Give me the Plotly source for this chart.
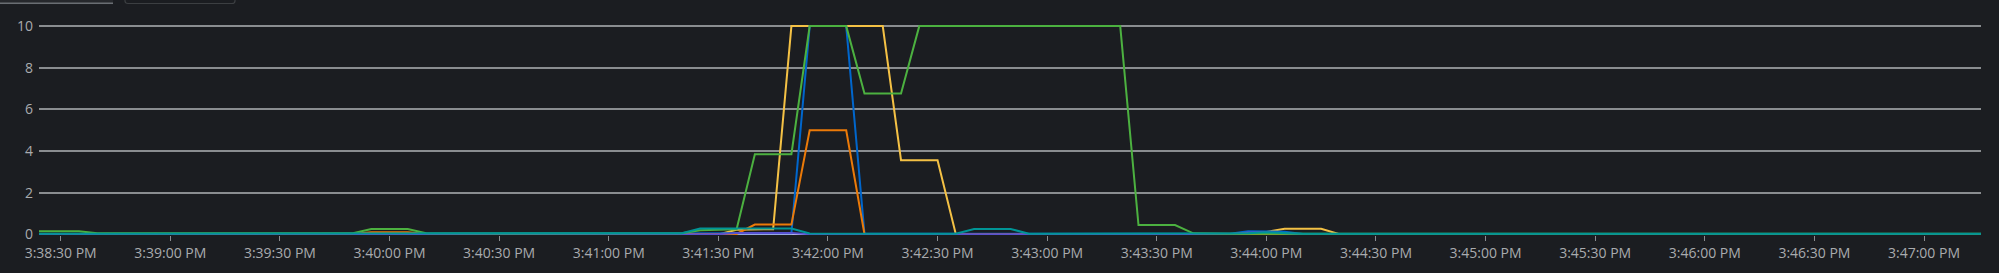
import plotly.graph_objects as go
from datetime import datetime, timedelta

# ---------------- data ----------------
start_time = datetime(2024, 1, 1, 15, 38, 20)
step_seconds = 5
n_points = 109  # 3:38:20 PM .. 3:47:20 PM every 5 s
times = [start_time + timedelta(seconds=step_seconds * i) for i in range(n_points)]

def pad(values):
    return values + [values[-1]] * (n_points - len(values))

# index k -> 3:38:20 + 5k seconds
green = pad([
    0.15, 0.15, 0.15, 0.15, 0.05, 0.04, 0.04, 0.05, 0.06, 0.06,   # k0-9
    0.05, 0.04, 0.04, 0.04, 0.04, 0.04, 0.04, 0.04, 0.05, 0.26,   # k10-19
    0.26, 0.26, 0.05, 0.04, 0.04, 0.04, 0.04, 0.04, 0.04, 0.04,   # k20-29
    0.04, 0.04, 0.04, 0.04, 0.04, 0.04, 0.05, 0.20, 0.22, 0.25,   # k30-39
    3.85, 3.85, 3.85, 10, 10, 10, 6.76, 6.76, 6.76, 10,           # k40-49
    10, 10, 10, 10, 10, 10, 10, 10, 10, 10,                       # k50-59
    10, 0.45, 0.45, 0.45, 0.05, 0.03, 0.03, 0.03, 0.03, 0.03,     # k60-69
    0.03,
])
yellow = pad([
    0, 0, 0, 0, 0, 0, 0, 0, 0, 0,
    0, 0, 0, 0, 0, 0, 0, 0, 0, 0,
    0, 0, 0, 0, 0, 0, 0, 0, 0, 0,
    0, 0, 0, 0, 0, 0, 0, 0, 0, 0.22,
    0.22, 0.25, 10, 10, 10, 10, 10, 10, 3.56, 3.56,
    3.56, 0.01, 0.01, 0.01, 0.01, 0.01, 0.01, 0.01, 0.01, 0.01,
    0.01, 0.01, 0.01, 0.01, 0.01, 0.01, 0.01, 0.01, 0.12, 0.27,
    0.27, 0.27, 0.01,
])
blue = pad([
    0.02, 0.02, 0.02, 0.02, 0.02, 0.02, 0.02, 0.02, 0.02, 0.02,
    0.02, 0.02, 0.02, 0.02, 0.02, 0.02, 0.02, 0.02, 0.02, 0.02,
    0.02, 0.02, 0.02, 0.02, 0.02, 0.02, 0.02, 0.02, 0.02, 0.02,
    0.02, 0.02, 0.02, 0.02, 0.02, 0.02, 0.02, 0.02, 0.02, 0.04,
    0.04, 0.05, 0.05, 10, 10, 10, 0.03, 0.03, 0.03, 0.03,
    0.03, 0.03, 0.03, 0.03, 0.03, 0.03, 0.03, 0.03, 0.03, 0.03,
    0.03, 0.03, 0.03, 0.03, 0.03, 0.03, 0.03, 0.15, 0.15, 0.13,
    0.02,
])
orange = pad([
    0.02, 0.02, 0.02, 0.02, 0.02, 0.02, 0.02, 0.02, 0.02, 0.02,
    0.03, 0.04, 0.04, 0.04, 0.04, 0.03, 0.02, 0.02, 0.02, 0.10,
    0.10, 0.10, 0.02, 0.02, 0.02, 0.02, 0.02, 0.02, 0.02, 0.02,
    0.02, 0.02, 0.02, 0.02, 0.02, 0.02, 0.02, 0.02, 0.02, 0.02,
    0.47, 0.47, 0.47, 5, 5, 5, 0.01, 0.01, 0.01, 0.01,
    0.01,
])
purple = pad([
    0.01, 0.01, 0.01, 0.01, 0.01, 0.01, 0.01, 0.01, 0.01, 0.01,
    0.01, 0.01, 0.01, 0.01, 0.01, 0.01, 0.01, 0.01, 0.01, 0.01,
    0.01, 0.01, 0.01, 0.01, 0.01, 0.01, 0.01, 0.01, 0.01, 0.01,
    0.01, 0.01, 0.01, 0.01, 0.01, 0.01, 0.01, 0.01, 0.01, 0.07,
    0.07, 0.07, 0.07, 0.01, 0.01, 0.01, 0.01, 0.01, 0.01, 0.01,
    0.01, 0.01, 0.01, 0.01, 0.01, 0.01, 0.01, 0.01, 0.01, 0.01,
    0.01, 0.01, 0.01, 0.01, 0.01, 0.01, 0.01, 0.09, 0.10, 0.06,
    0.01,
])
lavender = pad([0.0])
teal = pad([
    0.03, 0.03, 0.03, 0.03, 0.03, 0.03, 0.03, 0.03, 0.03, 0.03,
    0.03, 0.03, 0.03, 0.03, 0.03, 0.03, 0.03, 0.03, 0.03, 0.03,
    0.03, 0.03, 0.03, 0.03, 0.03, 0.03, 0.03, 0.03, 0.03, 0.03,
    0.03, 0.03, 0.03, 0.03, 0.03, 0.03, 0.06, 0.28, 0.28, 0.28,
    0.28, 0.28, 0.28, 0.04, 0.03, 0.03, 0.03, 0.03, 0.03, 0.03,
    0.03, 0.03, 0.26, 0.26, 0.26, 0.03, 0.03, 0.03, 0.03, 0.03,
    0.03, 0.03, 0.03, 0.03, 0.03, 0.03, 0.03, 0.05, 0.10, 0.05,
    0.03,
])

series = [
    ("lavender", lavender, "#c6c1ea"),
    ("yellow", yellow, "#f4c145"),
    ("blue", blue, "#0066cc"),
    ("orange", orange, "#ec7a08"),
    ("purple", purple, "#5752d1"),
    ("green", green, "#4cb140"),
    ("teal", teal, "#009596"),
]

x_tick_vals = [datetime(2024, 1, 1, 15, 38, 30) + timedelta(seconds=30 * i) for i in range(18)]
x_tick_text = [
    "3:38:30 PM", "3:39:00 PM", "3:39:30 PM", "3:40:00 PM", "3:40:30 PM", "3:41:00 PM",
    "3:41:30 PM", "3:42:00 PM", "3:42:30 PM", "3:43:00 PM", "3:43:30 PM", "3:44:00 PM",
    "3:44:30 PM", "3:45:00 PM", "3:45:30 PM", "3:46:00 PM", "3:46:30 PM", "3:47:00 PM",
]
y_tick_vals = [0, 2, 4, 6, 8, 10]
y_tick_text = ["0", "2", "4", "6", "8", "10"]

x_range = [datetime(2024, 1, 1, 15, 38, 24, 60000), datetime(2024, 1, 1, 15, 47, 15, 600000)]
y_range = [-0.03, 10.15]

# ---------------- figure ----------------
W, H = 1999, 273
BG = "#1b1d21"
TEXT = "#a9abae"
GRID = "#8a8d90"

fig = go.Figure()
for name, vals, color in series:
    fig.add_trace(go.Scatter(
        x=times, y=vals, mode="lines", name=name,
        line=dict(color=color, width=2), hoverinfo="skip", showlegend=False,
    ))

M_L, M_R, M_T, M_B = 39, 18, 23, 38
plot_w = W - M_L - M_R
plot_h = H - M_T - M_B

def px_x(p):
    return (p - M_L) / plot_w

def px_y(p):
    return (H - M_B - p) / plot_h

shapes = [
    # cut-off tab underline at top-left
    dict(type="rect", xref="paper", yref="paper",
         x0=px_x(0), x1=px_x(113), y0=px_y(4.2), y1=px_y(-2),
         line=dict(width=0), fillcolor="#26282c", layer="below"),
    dict(type="line", xref="paper", yref="paper",
         x0=px_x(0), x1=px_x(113), y0=px_y(3.3), y1=px_y(3.3),
         line=dict(color="#6a6e73", width=1.5)),
    # cut-off button outline
    dict(type="path", xref="paper", yref="paper",
         path=(f"M {px_x(125)} {px_y(-2)} L {px_x(125)} {px_y(1)} "
               f"Q {px_x(125)} {px_y(3.5)} {px_x(128)} {px_y(3.5)} "
               f"L {px_x(232)} {px_y(3.5)} "
               f"Q {px_x(235)} {px_y(3.5)} {px_x(235)} {px_y(1)} "
               f"L {px_x(235)} {px_y(-2)}"),
         line=dict(color="#3c3f42", width=1.2)),
]

fig.update_layout(
    width=W, height=H,
    margin=dict(l=M_L, r=M_R, t=M_T, b=M_B, pad=0),
    paper_bgcolor=BG, plot_bgcolor=BG,
    font=dict(family="Open Sans, sans-serif", size=14, color=TEXT),
    shapes=shapes,
    xaxis=dict(
        range=x_range, type="date",
        tickmode="array", tickvals=x_tick_vals, ticktext=x_tick_text,
        showgrid=False, zeroline=False, showline=False,
        ticks="outside", ticklen=5, tickwidth=1, tickcolor=GRID,
        tickfont=dict(size=14, color=TEXT),
    ),
    yaxis=dict(
        range=y_range,
        tickmode="array", tickvals=y_tick_vals, ticktext=y_tick_text,
        showgrid=True, gridcolor=GRID, gridwidth=1.5,
        zeroline=False, showline=False, ticks="",
        ticklabelstandoff=5,
        tickfont=dict(size=14, color=TEXT),
    ),
)

fig.write_html("out.html")
